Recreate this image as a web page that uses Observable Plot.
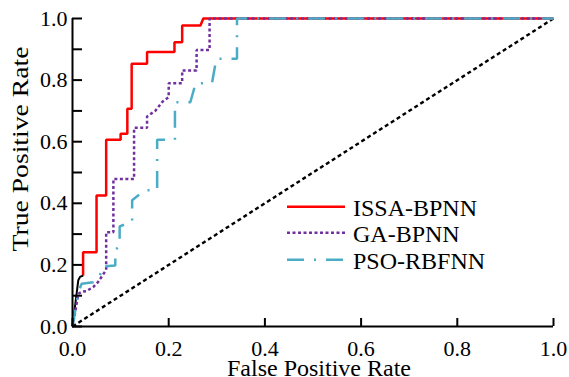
<!DOCTYPE html>
<html><head><meta charset="utf-8">
<script src="https://cdn.jsdelivr.net/npm/d3@7"></script>
<script src="https://cdn.jsdelivr.net/npm/@observablehq/plot@0.6"></script>
<style>
html,body{margin:0;padding:0;background:#fff;}
svg{display:block}
</style>
</head><body><div id="chart"></div>
<script>
// ---- data ----
const seriesNames = ["ISSA-BPNN", "GA-BPNN", "PSO-RBFNN"];
const seriesColors = ["#ff0000", "#7030a0", "#4bacc6"];

const issaStartFpr = [0, 0.012, 0.016, 0.022];
const issaStartTpr = [0, 0.150, 0.162, 0.165];

const issaFpr = [0.022, 0.022, 0.050, 0.050, 0.070, 0.070, 0.100, 0.100, 0.114, 0.114, 0.123, 0.123, 0.155, 0.155, 0.212, 0.212, 0.228, 0.228, 0.266, 0.272, 1.0];
const issaTpr = [0.165, 0.241, 0.241, 0.425, 0.425, 0.606, 0.606, 0.626, 0.626, 0.707, 0.707, 0.853, 0.853, 0.891, 0.891, 0.923, 0.923, 0.977, 0.977, 1.0, 1.0];

const gaFpr = [0, 0.006, 0.012, 0.020, 0.029, 0.043, 0.053, 0.070, 0.070, 0.085, 0.085, 0.128, 0.128, 0.155, 0.155, 0.172, 0.187, 0.200, 0.200, 0.228, 0.228, 0.258, 0.258, 0.285, 0.285, 1.0];
const gaTpr = [0, 0.050, 0.106, 0.113, 0.115, 0.128, 0.144, 0.184, 0.306, 0.306, 0.479, 0.479, 0.645, 0.645, 0.682, 0.700, 0.730, 0.745, 0.790, 0.790, 0.831, 0.831, 0.898, 0.898, 1.0, 1.0];

const psoFpr = [0, 0.012, 0.019, 0.043, 0.053, 0.057, 0.062, 0.089, 0.089, 0.098, 0.098, 0.124, 0.124, 0.150, 0.176, 0.176, 0.213, 0.213, 0.245, 0.256, 0.290, 0.299, 0.342, 0.342, 1.0];
const psoTpr = [0, 0.111, 0.139, 0.144, 0.152, 0.166, 0.195, 0.198, 0.250, 0.260, 0.325, 0.340, 0.410, 0.442, 0.442, 0.606, 0.606, 0.728, 0.728, 0.790, 0.790, 0.869, 0.869, 1.0, 1.0];

const chanceFpr = [0, 1];
const chanceTpr = [0, 1];

const xTicks = [0, 0.2, 0.4, 0.6, 0.8, 1.0];
const yTicks = [0, 0.2, 0.4, 0.6, 0.8, 1.0];
const yMinorTicks = [0, 0.1, 0.2, 0.3, 0.4, 0.5, 0.6, 0.7, 0.8, 0.9, 1.0];
const xLabel = "False Positive Rate";
const yLabel = "True Positive Rate";

const rows = (f, t) => f.map((x, i) => ({x, y: t[i]}));
const fmt = d3.format(".1f");
const serif = "Liberation Serif";

const plot = Plot.plot({
  width: 569, height: 377,
  marginLeft: 72, marginRight: 16, marginTop: 18, marginBottom: 51,
  x: {domain: [0, 1]},
  y: {domain: [0, 1]},
  style: {fontFamily: serif, fontSize: "22px", color: "#000", background: "#fff"},
  marks: [
    Plot.line(rows(chanceFpr, chanceTpr), {x: "x", y: "y", stroke: "#000", strokeWidth: 2.4, strokeDasharray: "4,3", strokeLinecap: "butt"}),
    Plot.line(rows(issaFpr, issaTpr), {x: "x", y: "y", stroke: seriesColors[0], strokeWidth: 2.5, strokeLinejoin: "miter", strokeLinecap: "butt"}),
    Plot.line(rows(issaStartFpr, issaStartTpr), {x: "x", y: "y", stroke: "#000", strokeWidth: 2, strokeLinecap: "butt"}),
    Plot.line(rows(gaFpr, gaTpr), {x: "x", y: "y", stroke: seriesColors[1], strokeWidth: 2.5, strokeDasharray: "3,2.5", strokeLinecap: "butt", strokeLinejoin: "miter"}),
    Plot.line(rows(psoFpr, psoTpr), {x: "x", y: "y", stroke: seriesColors[2], strokeWidth: 2.5, strokeDasharray: "17,10,2,10", strokeLinecap: "butt", strokeLinejoin: "miter"}),
    Plot.ruleX([0], {stroke: "#000", strokeWidth: 2}),
    Plot.ruleY([0], {stroke: "#000", strokeWidth: 2}),
    Plot.axisX(xTicks, {tickSize: -8, tickFormat: () => "", label: null, strokeWidth: 2}),
    Plot.axisX(xTicks, {tickSize: 0, tickPadding: 14, tickFormat: fmt, label: null}),
    Plot.axisY(yMinorTicks, {tickSize: -10, tickFormat: () => "", label: null, strokeWidth: 2}),
    Plot.axisY(yTicks, {tickSize: 0, tickPadding: 5, tickFormat: fmt, label: null})
  ]
});

const svg = d3.select(plot);

svg.append("text")
  .attr("x", 319).attr("y", 375.5)
  .attr("text-anchor", "middle")
  .attr("font-family", serif)
  .attr("font-size", 24)
  .text(xLabel);
svg.append("text")
  .attr("transform", "translate(28,149) rotate(-90)")
  .attr("text-anchor", "middle")
  .attr("font-family", serif)
  .attr("font-size", 24)
  .attr("textLength", 205)
  .attr("lengthAdjust", "spacingAndGlyphs")
  .text(yLabel);

// legend
const legendY = [206.7, 232.7, 259.7];
const dashes = [null, "3,2.5", "17,10,2,10"];
const lg = svg.append("g");
seriesNames.forEach((name, i) => {
  lg.append("line")
    .attr("x1", 287).attr("x2", 345)
    .attr("y1", legendY[i]).attr("y2", legendY[i])
    .attr("stroke", seriesColors[i]).attr("stroke-width", 2.5)
    .attr("stroke-dasharray", dashes[i]);
  lg.append("text")
    .attr("x", 353).attr("y", legendY[i] + 9.2)
    .attr("text-anchor", "start")
    .attr("font-family", serif)
    .attr("font-size", 24)
    .text(name);
});

document.getElementById("chart").appendChild(plot);
</script>
</body></html>
